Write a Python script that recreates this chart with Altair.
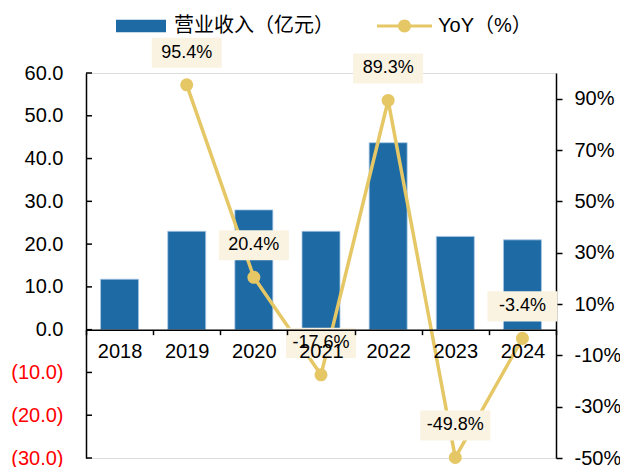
import altair as alt
import pandas as pd

years = ["2018", "2019", "2020", "2021", "2022", "2023", "2024"]
revenue = [11.8, 23.0, 28.0, 23.0, 43.7, 21.8, 21.0]
yoy = [None, 95.4, 20.4, -17.6, 89.3, -49.8, -3.4]
left_ticks = [-30, -20, -10, 0, 10, 20, 30, 40, 50, 60]
right_ticks = [-50, -30, -10, 10, 30, 50, 70, 90]

BAR_NAME = "营业收入（亿元）"
LINE_NAME = "YoY（%）"
BLUE = "#1D6AA5"
GOLD = "#E5C766"
BOX = "#FAF3E1"
FONT = "Liberation Sans, Noto Sans CJK SC"
AX_FS = 20

df = pd.DataFrame({"year": years, "rev": revenue, "yoy": yoy,
                   "s1": BAR_NAME, "s2": LINE_NAME})
df_line = df.dropna(subset=["yoy"]).copy()
df_line["label"] = [f"{v:.1f}%" for v in df_line["yoy"]]
df_ticks = pd.DataFrame({"rev": left_ticks})

W, H = 470, 385
zero_off = -(H - H * 60 / 90)

xscale = alt.Scale(paddingInner=0, paddingOuter=0)
xaxis = alt.Axis(title=None, labelAngle=0, orient="bottom", offset=zero_off,
                 tickBand="extent", tickSize=5, tickColor="black", tickWidth=1.5,
                 domainColor="black", domainWidth=1.5, labelFontSize=AX_FS,
                 labelColor="black", labelPadding=7, labelFont=FONT, zindex=1)
X = alt.X("year:O", scale=xscale, axis=xaxis, sort=years)

lscale = alt.Scale(domain=[-30, 60], nice=False, zero=False)
rscale = alt.Scale(domain=[-50, 100], nice=False, zero=False)

laxis = alt.Axis(title=None, values=left_ticks, ticks=False, grid=False,
                 domainColor="black", domainWidth=1.5,
                 labelFontSize=AX_FS, labelPadding=23, labelFont=FONT,
                 labelExpr="datum.value < 0 ? '(' + format(-datum.value, '.1f') + ')' : format(datum.value, '.1f')",
                 labelColor=alt.condition("datum.value < 0", alt.value("#FF0000"), alt.value("#000000")))

rect_path = "M-1,-0.25L1,-0.25L1,0.25L-1,0.25Z"
line_dot_path = ("M-1,-0.055L1,-0.055L1,0.055L-1,0.055Z "
                 "M0.236,0A0.236,0.236 0 1,1 -0.236,0A0.236,0.236 0 1,1 0.236,0Z")

bars = alt.Chart(df).mark_bar(width=38, stroke="#A9C8E6", strokeWidth=0.8).encode(
    x=X,
    y=alt.Y("rev:Q", scale=lscale, axis=laxis),
    color=alt.Color("s1:N", scale=alt.Scale(domain=[BAR_NAME], range=[BLUE]),
                    legend=alt.Legend(title=None, orient="none", legendX=30, legendY=-72,
                                      symbolType=rect_path, symbolSize=2500,
                                      symbolStrokeWidth=0, labelFontSize=AX_FS,
                                      labelFont=FONT, labelOffset=8, padding=0)),
)

lticks = alt.Chart(df_ticks).mark_rule(color="black", strokeWidth=1.5).encode(
    y=alt.Y("rev:Q", scale=lscale, axis=laxis),
    x=alt.value(0), x2=alt.value(6),
)

left = alt.layer(bars, lticks)

Yr = alt.Y("yoy:Q", scale=rscale,
           axis=alt.Axis(title=None, orient="right", values=right_ticks, grid=False,
                         tickSize=6, tickColor="black", tickWidth=1.5,
                         domainColor="black", domainWidth=1.5, labelFontSize=AX_FS,
                         labelPadding=12, labelFont=FONT, labelColor="black",
                         labelExpr="datum.value + '%'"))

line = alt.Chart(df_line).mark_line(color=GOLD, strokeWidth=3.5).encode(x=X, y=Yr)
points = alt.Chart(df_line).mark_point(filled=True, size=170, opacity=1).encode(
    x=X, y=Yr,
    color=alt.Color("s2:N", scale=alt.Scale(domain=[LINE_NAME], range=[GOLD]),
                    legend=alt.Legend(title=None, orient="none", legendX=291, legendY=-74.5,
                                      symbolType=line_dot_path, symbolSize=3025,
                                      symbolStrokeWidth=0, labelFontSize=AX_FS,
                                      labelFont=FONT, labelOffset=6, padding=0)),
)
boxes = alt.Chart(df_line).mark_point(
    shape="M-1,-0.43L1,-0.43L1,0.43L-1,0.43Z", size=4900, filled=True,
    color=BOX, opacity=1, yOffset=-32).encode(x=X, y=Yr)
texts = alt.Chart(df_line).mark_text(fontSize=18, font=FONT, color="black", dy=-32,
                                      baseline="middle").encode(x=X, y=Yr, text="label:N")

right = alt.layer(line, boxes, texts, points)

chart = alt.layer(left, right).resolve_scale(y="independent", color="independent").properties(
    width=W, height=H,
    autosize=alt.AutoSizeParams(type="none"),
    padding={"left": 78, "top": 65, "right": 64, "bottom": 10},
).configure_view(stroke=None).configure(font=FONT)

chart.save("out.html", embed_options={"renderer": "svg", "actions": False})
